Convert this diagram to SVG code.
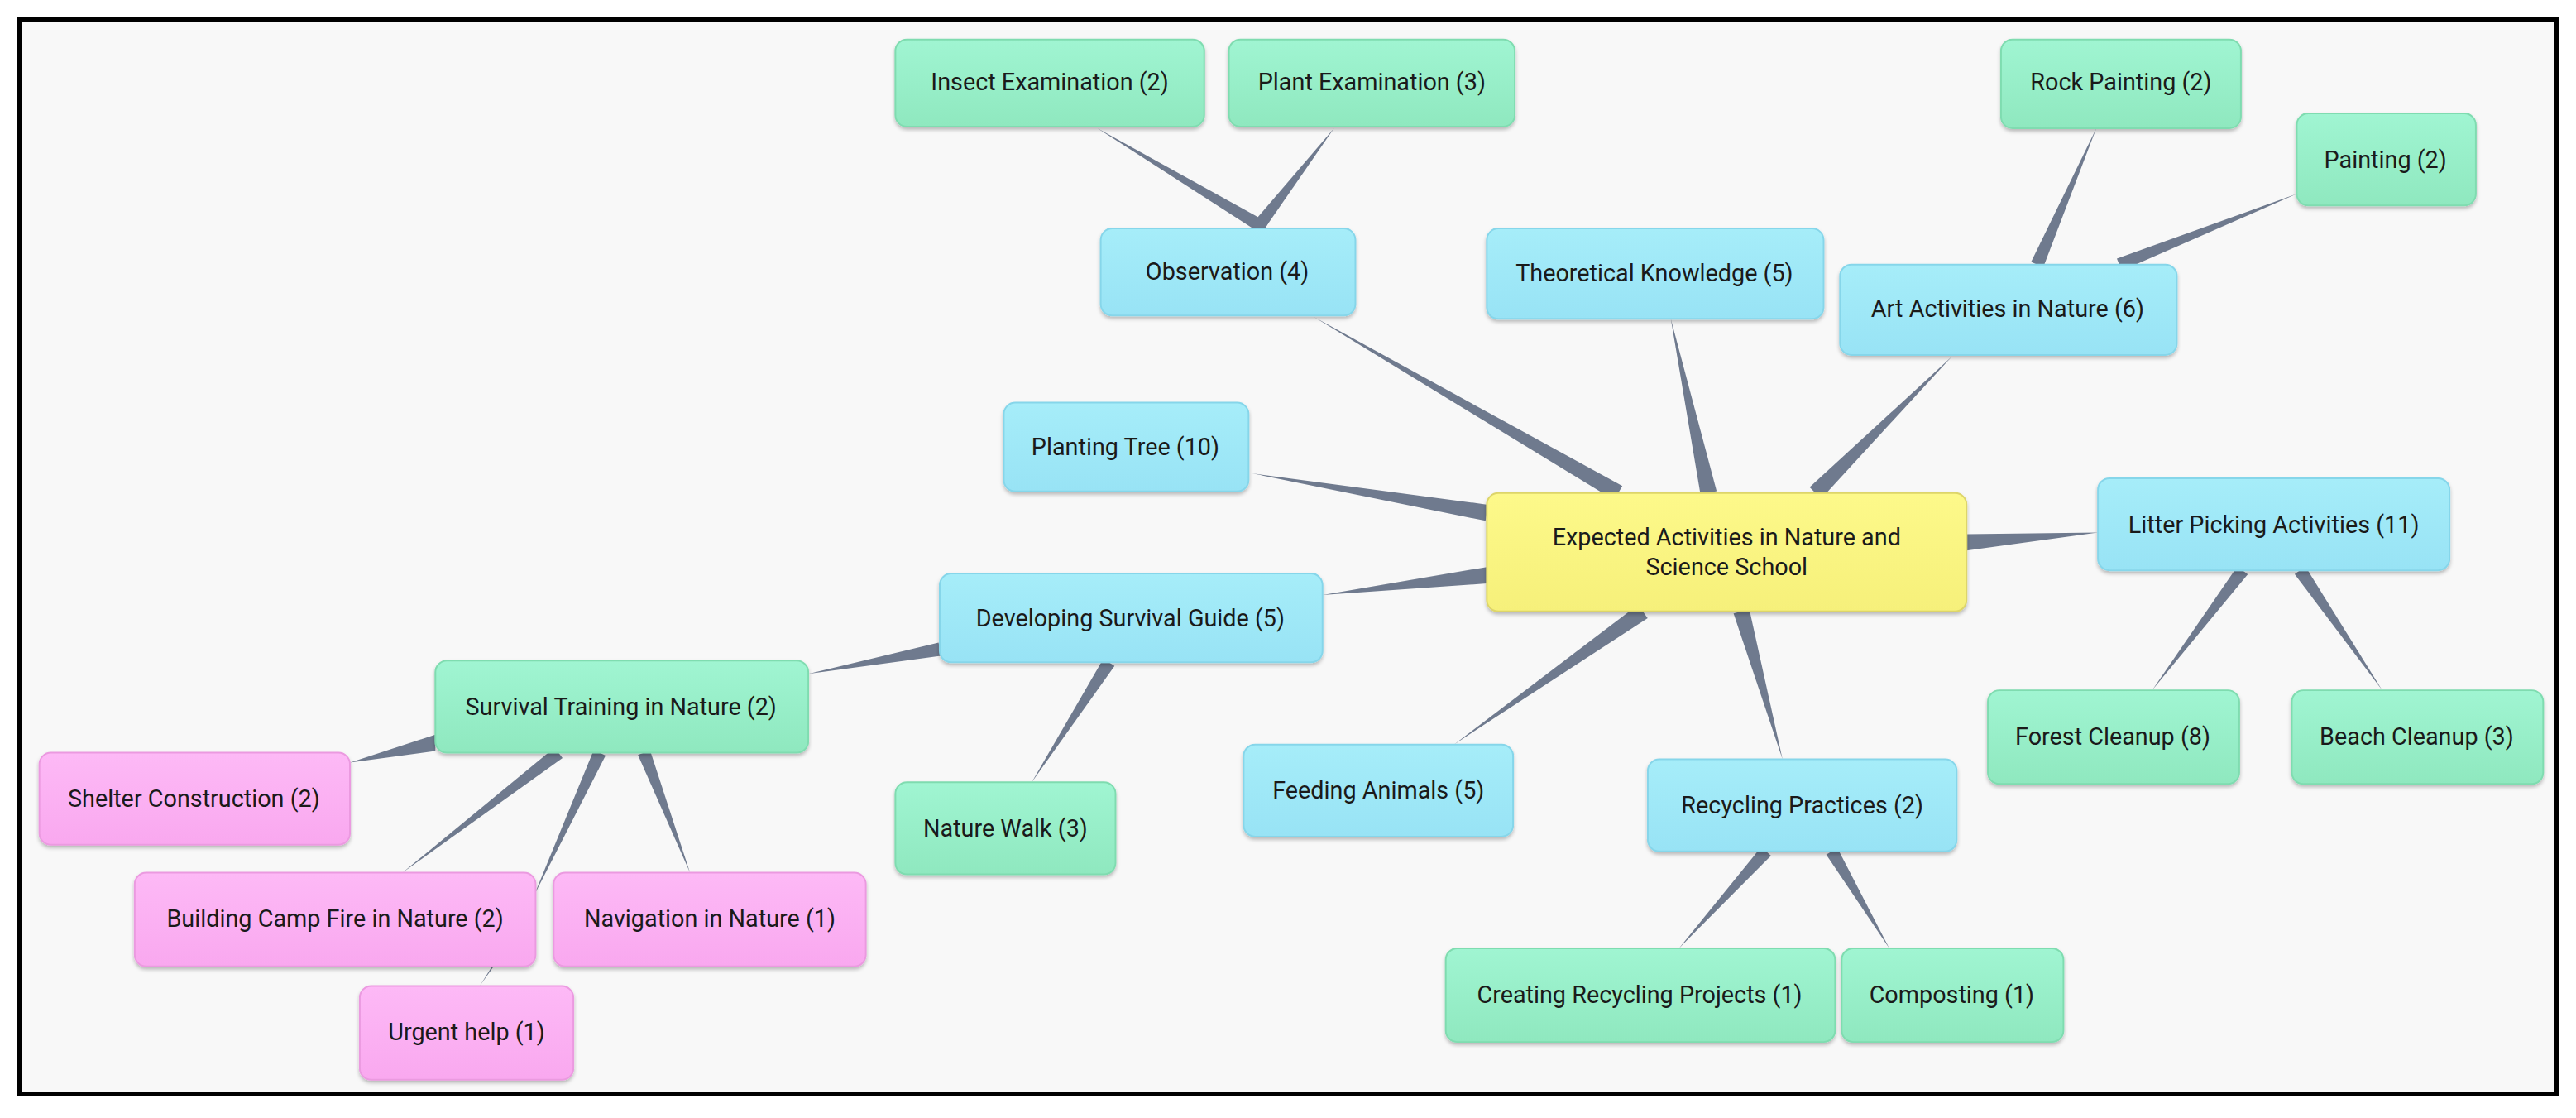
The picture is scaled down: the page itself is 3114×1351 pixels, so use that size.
<svg xmlns="http://www.w3.org/2000/svg" width="3114" height="1351" viewBox="0 0 3114 1351">
<defs>
<linearGradient id="gb" x1="0" y1="0" x2="0" y2="1"><stop offset="0" stop-color="#a6edf9"/><stop offset="1" stop-color="#98e3f5"/></linearGradient>
<linearGradient id="gg" x1="0" y1="0" x2="0" y2="1"><stop offset="0" stop-color="#a0f5d2"/><stop offset="1" stop-color="#8fe8bf"/></linearGradient>
<linearGradient id="gp" x1="0" y1="0" x2="0" y2="1"><stop offset="0" stop-color="#fdb9f6"/><stop offset="1" stop-color="#f9a8ef"/></linearGradient>
<linearGradient id="gy" x1="0" y1="0" x2="0" y2="1"><stop offset="0" stop-color="#fdf98a"/><stop offset="1" stop-color="#f6f07a"/></linearGradient>
<filter id="sh" x="-10%" y="-10%" width="120%" height="140%"><feDropShadow dx="0" dy="1.5" stdDeviation="1.2" flood-color="#000" flood-opacity="0.25"/></filter>
</defs>
<style>
.n rect{filter:url(#sh);stroke-width:1}
.b rect{fill:url(#gb);stroke:#86d6ea}
.g rect{fill:url(#gg);stroke:#7fdcb0}
.p rect{fill:url(#gp);stroke:#eb9ae0}
.y rect{fill:url(#gy);stroke:#ddd56a}
text{font-family:Roboto,"Liberation Sans",sans-serif;font-size:14.5px;fill:#1a1a1a;text-anchor:middle;dominant-baseline:central}
#connectors polygon{fill:#6f7a8e}
</style>
<rect x="0" y="0" width="3114" height="1351" fill="#ffffff"/>
<rect x="24" y="24" width="3066" height="1298" fill="#f8f8f8" stroke="#000" stroke-width="6"/>
<g transform="scale(1.986)">
<g id="connectors">
<polygon points="987.5,295.7 982.5,304.3 800,193"/>
<polygon points="1044.9,298.9 1035.1,301.1 1017,194"/>
<polygon points="1108.5,303.5 1101.5,296.5 1188,217"/>
<polygon points="905.8,307.1 904.2,316.9 762,288"/>
<polygon points="1197,325 1197,335 1277,324"/>
<polygon points="905,345 905,355 805,362"/>
<polygon points="997.1,367.9 1002.9,376.1 885,453"/>
<polygon points="1055.2,373.3 1064.8,370.7 1085,462"/>
<polygon points="772.1,135.6 767.9,142.4 668,78"/>
<polygon points="768.2,141.4 761.8,136.6 812,78"/>
<polygon points="1243.7,162.6 1236.3,159.4 1276,78"/>
<polygon points="1291.5,164.7 1288.5,157.3 1398,118"/>
<polygon points="1361.8,344.6 1368.2,349.4 1310,420"/>
<polygon points="1396.7,349.3 1403.3,344.7 1450,420"/>
<polygon points="572.7,399 571.3,391 492,410"/>
<polygon points="671.6,400.8 678.4,405.2 628,476"/>
<polygon points="265,447 265,457 213,464"/>
<polygon points="337.6,454.8 342.4,461.2 245,531"/>
<polygon points="361.4,456.3 368.6,459.7 325,545"/>
<polygon points="388.3,459.4 395.7,456.6 420,531"/>
<polygon points="300.5,588 299.5,588 292,600"/>
<polygon points="1072,515.3 1078,520.7 1022,577"/>
<polygon points="1111.6,520 1118.4,516 1150,577"/>
</g>
<g id="center" class="n y"><rect x="905" y="300" width="292" height="72" rx="7"/><text x="1051" y="327">Expected Activities in Nature and</text><text x="1051" y="345">Science School</text></g>
<g id="insect" class="n g"><rect x="545" y="24" width="188" height="53" rx="7"/><text x="639" y="50">Insect Examination  (2)</text></g>
<g id="plant" class="n g"><rect x="748" y="24" width="174" height="53" rx="7"/><text x="835" y="50">Plant Examination (3)</text></g>
<g id="observation" class="n b"><rect x="670" y="139" width="155" height="53" rx="7"/><text x="747" y="165">Observation (4)</text></g>
<g id="theoretical" class="n b"><rect x="905" y="139" width="205" height="55" rx="7"/><text x="1007" y="166">Theoretical Knowledge (5)</text></g>
<g id="rock" class="n g"><rect x="1218" y="24" width="146" height="54" rx="7"/><text x="1291" y="50">Rock Painting (2)</text></g>
<g id="painting" class="n g"><rect x="1398" y="69" width="109" height="56" rx="7"/><text x="1452" y="97">Painting (2)</text></g>
<g id="art" class="n b"><rect x="1120" y="161" width="205" height="55" rx="7"/><text x="1222" y="188">Art Activities in Nature (6)</text></g>
<g id="planting" class="n b"><rect x="611" y="245" width="149" height="54" rx="7"/><text x="685" y="272">Planting Tree (10)</text></g>
<g id="litter" class="n b"><rect x="1277" y="291" width="214" height="56" rx="7"/><text x="1384" y="319">Litter Picking Activities (11)</text></g>
<g id="developing" class="n b"><rect x="572" y="349" width="233" height="54" rx="7"/><text x="688" y="376">Developing Survival Guide (5)</text></g>
<g id="survival" class="n g"><rect x="265" y="402" width="227" height="56" rx="7"/><text x="378" y="430">Survival Training in Nature (2)</text></g>
<g id="shelter" class="n p"><rect x="24" y="458" width="189" height="56" rx="7"/><text x="118" y="486">Shelter Construction (2)</text></g>
<g id="walk" class="n g"><rect x="545" y="476" width="134" height="56" rx="7"/><text x="612" y="504">Nature Walk (3)</text></g>
<g id="feeding" class="n b"><rect x="757" y="453" width="164" height="56" rx="7"/><text x="839" y="481">Feeding Animals (5)</text></g>
<g id="recycling" class="n b"><rect x="1003" y="462" width="188" height="56" rx="7"/><text x="1097" y="490">Recycling Practices (2)</text></g>
<g id="forest" class="n g"><rect x="1210" y="420" width="153" height="57" rx="7"/><text x="1286" y="448">Forest Cleanup (8)</text></g>
<g id="beach" class="n g"><rect x="1395" y="420" width="153" height="57" rx="7"/><text x="1471" y="448">Beach Cleanup (3)</text></g>
<g id="campfire" class="n p"><rect x="82" y="531" width="244" height="57" rx="7"/><text x="204" y="559">Building Camp Fire in Nature (2)</text></g>
<g id="navigation" class="n p"><rect x="337" y="531" width="190" height="57" rx="7"/><text x="432" y="559">Navigation in Nature (1)</text></g>
<g id="urgent" class="n p"><rect x="219" y="600" width="130" height="57" rx="7"/><text x="284" y="628">Urgent help (1)</text></g>
<g id="creating" class="n g"><rect x="880" y="577" width="237" height="57" rx="7"/><text x="998" y="605">Creating Recycling Projects (1)</text></g>
<g id="composting" class="n g"><rect x="1121" y="577" width="135" height="57" rx="7"/><text x="1188" y="605">Composting (1)</text></g>
</g>
</svg>
